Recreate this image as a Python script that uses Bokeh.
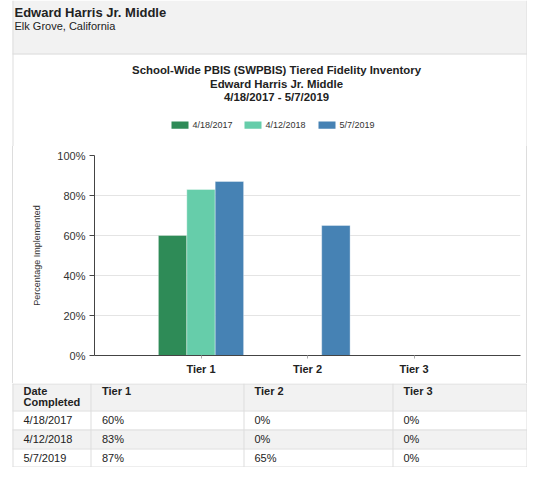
from bokeh.plotting import figure
from bokeh.models import (Range1d, FactorRange, FixedTicker, PrintfTickFormatter,
                          Spacer, ColumnDataSource)
from bokeh.layouts import column, row
from bokeh.transform import dodge
from bokeh.core.properties import value
from bokeh.embed import file_html
from bokeh.resources import INLINE

# ---------------- data ----------------
school_name = "Edward Harris Jr. Middle"
school_location = "Elk Grove, California"
chart_title = "School-Wide PBIS (SWPBIS) Tiered Fidelity Inventory"
tiers = ["Tier 1", "Tier 2", "Tier 3"]
dates = ["4/18/2017", "4/12/2018", "5/7/2019"]
pct_2017 = [60, 0, 0]
pct_2018 = [83, 0, 0]
pct_2019 = [87, 65, 0]
colors = ["#2E8B57", "#66CDAA", "#4682B4"]
y_ticks = [0, 20, 40, 60, 80, 100]
y_axis_label = "Percentage Implemented"
table_first_header = "Date Completed"

# ---------------- style / layout ----------------
FONT = "Liberation Sans"
BORDER = "#dddddd"
GRAY = "#f2f2f2"
TEXT = "#222222"
W = 527
LEFT_EDGE, RIGHT_EDGE = 12.5, 526.5
TOP_H, CHART_H, TABLE_H = 146, 237, 84
TEXT_DY = -4  # baseline correction for rendered text


def blank(width, height, y0, y1):
    f = figure(width=width, height=height, x_range=Range1d(0, width), y_range=Range1d(y1, y0),
               output_backend="svg", toolbar_location=None, min_border=0,
               x_axis_type=None, y_axis_type=None)
    f.outline_line_color = None
    f.grid.visible = False
    return f


def txt(f, x, y, s, size="11px", bold=False, align="left", color=TEXT):
    f.text(x=[x], y=[y + TEXT_DY], text=[s], text_font=value(FONT), text_font_size=size,
           text_font_style="bold" if bold else "normal", text_color=color,
           text_baseline="alphabetic", text_align=align)


# ---------------- header, chart titles, legend ----------------
top = blank(W, TOP_H, 0, TOP_H)
top.quad(left=12, right=W, top=0, bottom=54, fill_color=GRAY, line_color=None)
top.segment(x0=[LEFT_EDGE, RIGHT_EDGE, 12], y0=[0, 0, 53.5],
            x1=[LEFT_EDGE, RIGHT_EDGE, W], y1=[TOP_H, TOP_H, 53.5],
            line_color=BORDER, line_width=1)
txt(top, 14, 16, school_name, size="13px", bold=True)
txt(top, 14, 29, school_location, size="11px")

title_lines = [chart_title, school_name, f"{dates[0]} - {dates[-1]}"]
for line, base in zip(title_lines, [73.4, 87.3, 100.8]):
    txt(top, 276, base, line, size="11.4px", bold=True, align="center")

legend_x = [171, 244, 318]
for lx, lab, c in zip(legend_x, dates, colors):
    top.quad(left=lx, right=lx + 17, top=121, bottom=128.3, fill_color=c, line_color=None)
    txt(top, lx + 21, 128.4, lab, size="9px", color="#333333")

# ---------------- chart ----------------
FRAME_L, FRAME_R = 94, 520
FRAME_T, FRAME_B = 155, 355
chart_left = 13
chart_w = W - chart_left - 1
src = ColumnDataSource(dict(tier=tiers, d0=pct_2017, d1=pct_2018, d2=pct_2019))
p = figure(width=chart_w, height=CHART_H,
           x_range=FactorRange(*tiers, range_padding=1/3, range_padding_units="percent"),
           y_range=Range1d(0, 100), output_backend="svg", toolbar_location=None,
           min_border_left=FRAME_L - chart_left,
           min_border_right=chart_left + chart_w - FRAME_R,
           min_border_top=FRAME_T - TOP_H,
           min_border_bottom=TOP_H + CHART_H - FRAME_B)
p.outline_line_color = None
p.xgrid.visible = False
p.ygrid.grid_line_color = "#e4e4e4"
p.ygrid.ticker = FixedTicker(ticks=y_ticks)

bw = 0.8 / len(dates)
for i, (col, c) in enumerate(zip(["d0", "d1", "d2"], colors)):
    off = (i - (len(dates) - 1) / 2) * bw
    p.vbar(x=dodge("tier", off, range=p.x_range), top=col, width=bw, source=src,
           fill_color=c, line_color="white", line_alpha=0.35)

ya = p.yaxis[0]
ya.ticker = FixedTicker(ticks=y_ticks)
ya.formatter = PrintfTickFormatter(format="%d%%")
ya.axis_label = y_axis_label
ya.axis_label_text_font = FONT
ya.axis_label_text_font_size = "9px"
ya.axis_label_text_font_style = "normal"
ya.axis_label_text_color = "#333333"
ya.axis_label_standoff = 12
ya.major_label_text_font = FONT
ya.major_label_text_font_size = "11px"
ya.major_label_text_color = "#333333"
ya.major_label_standoff = 4
ya.major_tick_out = 5
ya.major_tick_in = 0
ya.minor_tick_out = 0
ya.minor_tick_in = 0
ya.axis_line_color = "#444444"
ya.major_tick_line_color = "#444444"

xa = p.xaxis[0]
xa.major_label_text_font = FONT
xa.major_label_text_font_size = "11px"
xa.major_label_text_font_style = "bold"
xa.major_label_text_color = TEXT
xa.major_label_standoff = 4
xa.major_tick_out = 3
xa.major_tick_in = 0
xa.axis_line_color = "#444444"
xa.major_tick_line_color = "#aaaaaa"

edge_l = Spacer(width=12, height=CHART_H)
edge_b1 = Spacer(width=1, height=CHART_H, styles={"background-color": BORDER})
edge_b2 = Spacer(width=1, height=CHART_H, styles={"background-color": BORDER})
chart_row = row(edge_l, edge_b1, p, edge_b2, spacing=0)

# ---------------- table ----------------
T0 = TOP_H + CHART_H
tb = blank(W, TABLE_H, T0, T0 + TABLE_H)
row_edges = [T0, T0 + 27, T0 + 46, T0 + 65, T0 + 83.5]
col_edges = [LEFT_EDGE, 90.5, 243.5, 392.5, RIGHT_EDGE]
text_x = [23, 101.5, 254, 403]
tb.quad(left=12, right=W, top=[row_edges[0], row_edges[2]], bottom=[row_edges[1], row_edges[3]],
        fill_color=GRAY, line_color=None)
hl = [r + 0.5 for r in row_edges[:-1]] + [row_edges[-1]]
tb.segment(x0=12, x1=W, y0=hl, y1=hl, line_color=BORDER, line_width=1)
tb.segment(x0=col_edges, x1=col_edges, y0=T0, y1=T0 + TABLE_H, line_color=BORDER, line_width=1)

w1, w2 = table_first_header.split(" ", 1)
txt(tb, text_x[0], T0 + 11.2, w1, bold=True)
txt(tb, text_x[0], T0 + 22.5, w2, bold=True)
for x, t in zip(text_x[1:], tiers):
    txt(tb, x, T0 + 11.5, t, bold=True)
series = [pct_2017, pct_2018, pct_2019]
for r, (d, vals) in enumerate(zip(dates, series)):
    base = row_edges[r + 1] + 13.3
    txt(tb, text_x[0], base, d)
    for x, v in zip(text_x[1:], vals):
        txt(tb, x, base, f"{v}%")

layout = column(top, chart_row, tb, spacing=0)
open("out.html", "w").write(file_html(layout, INLINE))
